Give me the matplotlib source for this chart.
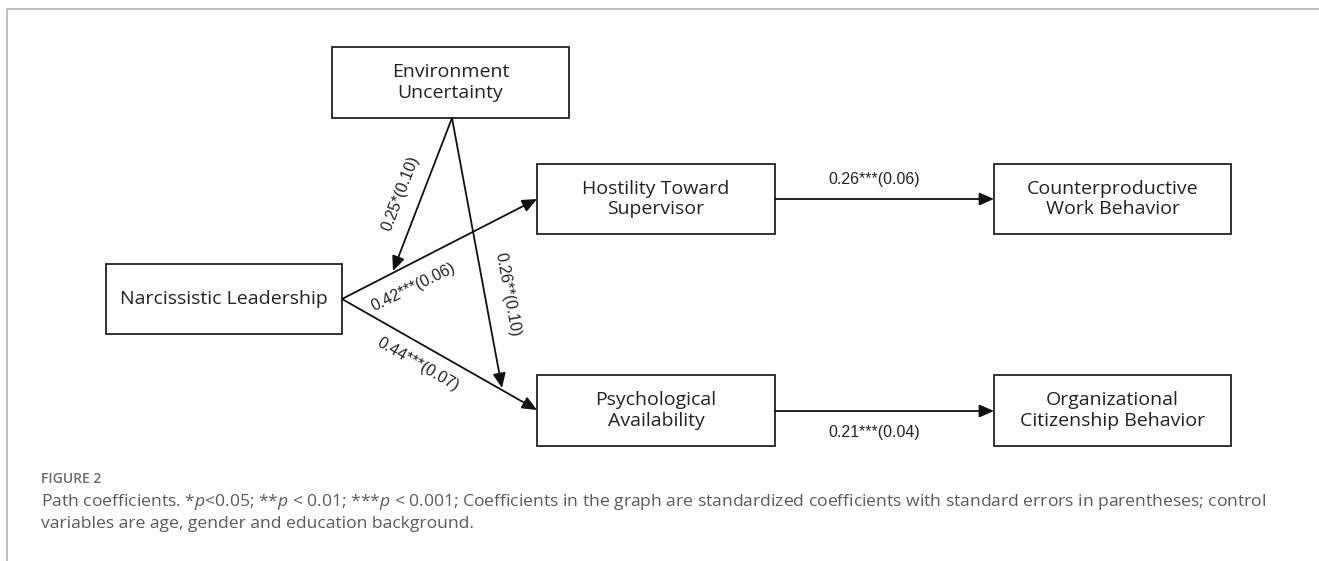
"""Path diagram: narcissistic leadership model with standardized path coefficients."""
import matplotlib
matplotlib.use("Agg")
import matplotlib.pyplot as plt
from matplotlib.patches import Rectangle

plt.rcParams["font.family"] = ["Open Sans", "DejaVu Sans"]
plt.rcParams["mathtext.fontset"] = "custom"
plt.rcParams["mathtext.rm"] = "Open Sans"
plt.rcParams["mathtext.it"] = "Open Sans:italic"

# --- data -----------------------------------------------------------------
NODES = ["Environment\nUncertainty", "Narcissistic Leadership",
         "Hostility Toward\nSupervisor", "Psychological\nAvailability",
         "Counterproductive\nWork Behavior", "Organizational\nCitizenship Behavior"]
# (from, to, label)
PATHS = [("nl", "hts", "0.42***(0.06)"),
         ("nl", "pa", "0.44***(0.07)"),
         ("hts", "cwb", "0.26***(0.06)"),
         ("pa", "ocb", "0.21***(0.04)")]
MODERATION = [("eu", "nl-hts", "0.25*(0.10)"),
              ("eu", "nl-pa", "0.26**(0.10)")]
CAPTION_TITLE = "FIGURE 2"
CAPTION = ("Path coefficients. *$p$<0.05; **$p$ < 0.01; ***$p$ < 0.001; Coefficients in the graph "
           "are standardized coefficients with standard errors in parentheses; control\n"
           "variables are age, gender and education background.")

# --- layout (pixel space, y down) ------------------------------------------
KEYS = ["eu", "nl", "hts", "pa", "cwb", "ocb"]
BOX = {"eu": (332, 47, 569, 118), "nl": (106, 264, 342, 334),
       "hts": (537, 164, 775, 234), "pa": (537, 375, 775, 446),
       "cwb": (994, 164, 1231, 234), "ocb": (994, 375, 1231, 446)}
# where each edge starts / ends
ENDS = {("nl", "hts"): ((342, 299), (537, 199)),
        ("nl", "pa"): ((342, 299), (537, 410)),
        ("hts", "cwb"): ((775, 199), (994, 199)),
        ("pa", "ocb"): ((775, 411), (994, 411)),
        ("eu", "nl-hts"): ((452, 118), (393, 271)),
        ("eu", "nl-pa"): ((452, 118), (502, 388))}
LABEL_POS = {("nl", "hts"): (413, 287, 26),
             ("nl", "pa"): (418, 365, -30),
             ("hts", "cwb"): (874, 179, 0),
             ("pa", "ocb"): (874, 432, 0),
             ("eu", "nl-hts"): (401, 193, 69),
             ("eu", "nl-pa"): (508, 295, -79.5)}

W, H = 1319, 561
fig = plt.figure(figsize=(W / 100, H / 100), dpi=100)
ax = fig.add_axes([0, 0, 1, 1])
ax.set_xlim(0, W)
ax.set_ylim(H, 0)
ax.axis("off")

# page frame
ax.plot([7, 7, W], [H, 9, 9], color="#b5b5b5", lw=1.2, solid_capstyle="butt")

for key, name in zip(KEYS, NODES):
    x0, y0, x1, y1 = BOX[key]
    ax.add_patch(Rectangle((x0, y0), x1 - x0, y1 - y0, fill=False,
                           edgecolor="#222222", lw=1.3))
    ax.text((x0 + x1) / 2, (y0 + y1) / 2, name, ha="center", va="center",
            fontsize=14, color="#222222", linespacing=1.2)


def arrow(p0, p1):
    ax.annotate("", xy=p1, xytext=p0,
                arrowprops=dict(arrowstyle="-|>,head_length=0.8,head_width=0.35",
                                color="#111111", lw=1.3, shrinkA=0, shrinkB=0,
                                mutation_scale=11))


for a, b, lab in PATHS + MODERATION:
    p0, p1 = ENDS[(a, b)]
    arrow(p0, p1)
    x, y, rot = LABEL_POS[(a, b)]
    ax.text(x, y, lab, ha="center", va="center", rotation=rot,
            rotation_mode="anchor", fontsize=11.5, color="#222222",
            family=["Liberation Sans", "DejaVu Sans"])

ax.text(41, 479, CAPTION_TITLE, ha="left", va="center", fontsize=10,
        color="#6b6b6b", fontweight="semibold")
ax.text(41, 512, CAPTION, ha="left", va="center", fontsize=12.6,
        color="#5a5a5a", linespacing=1.3)

fig.savefig("out.png", dpi=100)
